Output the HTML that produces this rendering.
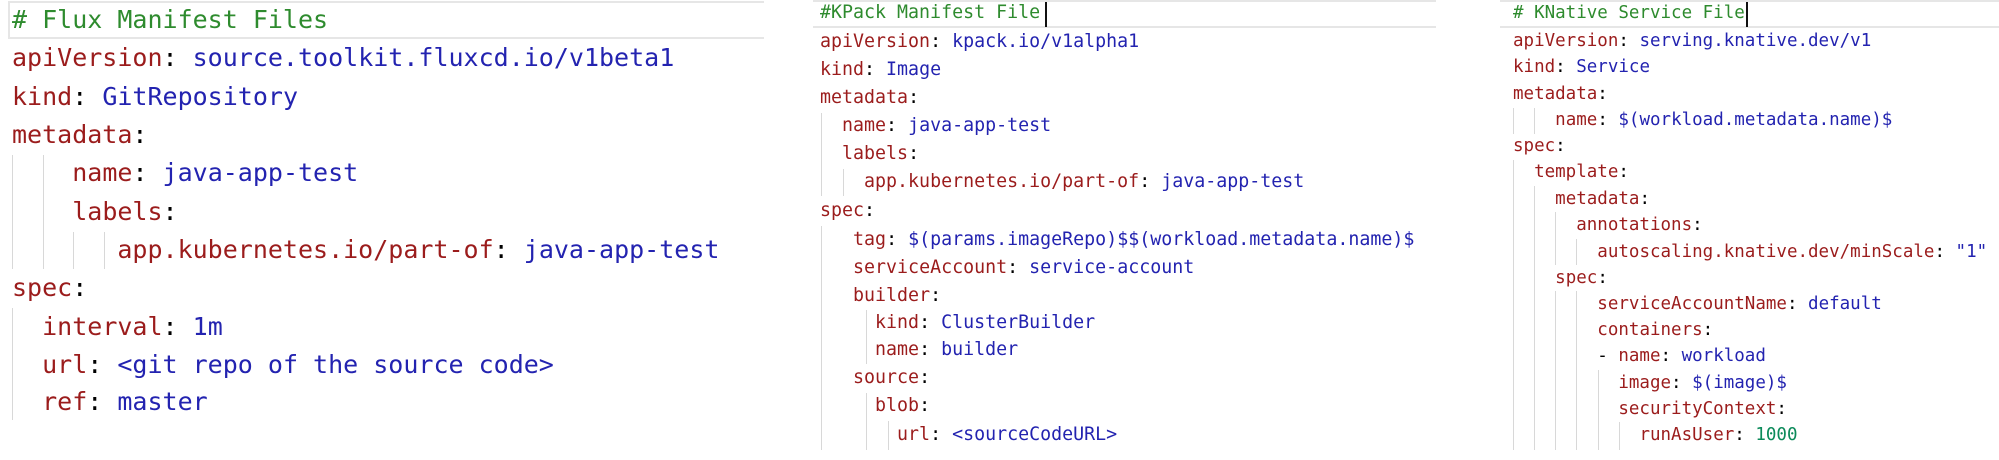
<!DOCTYPE html>
<html><head><meta charset="utf-8"><style>
html,body{margin:0;padding:0;background:#fff;}
body{width:1999px;height:460px;position:relative;overflow:hidden;font-family:"DejaVu Sans Mono","Liberation Mono",monospace;}
.l{position:absolute;white-space:pre;}
.p1 .l{font-size:25px;line-height:38px;left:12px;}
.p2 .l{font-size:18.3px;line-height:28px;left:820px;}
.p3 .l{font-size:17.5px;line-height:26px;left:1513px;}
.k{color:#9b1c1c}.v{color:#2323b0}.c{color:#2e8b2e}.n{color:#0b8a5a}
.g{position:absolute;width:1px;background:#d8d8d8;}
.hb{position:absolute;border-top:2px solid #e6e6e6;border-bottom:2px solid #e6e6e6;}
.cur{position:absolute;width:2px;background:#111;}
</style></head><body>
<!-- header bands -->
<div class="hb" style="left:8px;top:1px;width:754px;height:34px;border-left:2px solid #e6e6e6;"></div>
<div class="hb" style="left:813px;top:0px;width:623px;height:24px;"></div>
<div class="hb" style="left:1500px;top:0px;width:499px;height:24px;"></div>
<div class="cur" style="left:1045px;top:2px;height:25px;"></div>
<div class="cur" style="left:1746px;top:2px;height:25px;"></div>

<div class="p1">
<div class="l" style="top:1px"><span class="c"># Flux Manifest Files</span></div>
<div class="l" style="top:39px"><span class="k">apiVersion</span>: <span class="v">source.toolkit.fluxcd.io/v1beta1</span></div>
<div class="l" style="top:78px"><span class="k">kind</span>: <span class="v">GitRepository</span></div>
<div class="l" style="top:116px"><span class="k">metadata</span>:</div>
<div class="l" style="top:154px">    <span class="k">name</span>: <span class="v">java-app-test</span></div>
<div class="l" style="top:193px">    <span class="k">labels</span>:</div>
<div class="l" style="top:231px">       <span class="k">app.kubernetes.io/part-of</span>: <span class="v">java-app-test</span></div>
<div class="l" style="top:269px"><span class="k">spec</span>:</div>
<div class="l" style="top:308px">  <span class="k">interval</span>: <span class="v">1m</span></div>
<div class="l" style="top:346px">  <span class="k">url</span>: <span class="v">&lt;git repo of the source code&gt;</span></div>
<div class="l" style="top:383px">  <span class="k">ref</span>: <span class="v">master</span></div>
<div class="g" style="left:12px;top:155px;height:114px"></div>
<div class="g" style="left:43px;top:155px;height:114px"></div>
<div class="g" style="left:73px;top:232px;height:37px"></div>
<div class="g" style="left:104px;top:232px;height:37px"></div>
<div class="g" style="left:12px;top:308px;height:112px"></div>
</div>

<div class="p2">
<div class="l" style="top:-1px"><span class="c">#KPack Manifest File</span></div>
<div class="l" style="top:28px"><span class="k">apiVersion</span>: <span class="v">kpack.io/v1alpha1</span></div>
<div class="l" style="top:56px"><span class="k">kind</span>: <span class="v">Image</span></div>
<div class="l" style="top:84px"><span class="k">metadata</span>:</div>
<div class="l" style="top:112px">  <span class="k">name</span>: <span class="v">java-app-test</span></div>
<div class="l" style="top:140px">  <span class="k">labels</span>:</div>
<div class="l" style="top:168px">    <span class="k">app.kubernetes.io/part-of</span>: <span class="v">java-app-test</span></div>
<div class="l" style="top:197px"><span class="k">spec</span>:</div>
<div class="l" style="top:226px">   <span class="k">tag</span>: <span class="v">$(params.imageRepo)$$(workload.metadata.name)$</span></div>
<div class="l" style="top:254px">   <span class="k">serviceAccount</span>: <span class="v">service-account</span></div>
<div class="l" style="top:282px">   <span class="k">builder</span>:</div>
<div class="l" style="top:309px">     <span class="k">kind</span>: <span class="v">ClusterBuilder</span></div>
<div class="l" style="top:336px">     <span class="k">name</span>: <span class="v">builder</span></div>
<div class="l" style="top:364px">   <span class="k">source</span>:</div>
<div class="l" style="top:392px">     <span class="k">blob</span>:</div>
<div class="l" style="top:421px">       <span class="k">url</span>: <span class="v">&lt;sourceCodeURL&gt;</span></div>
<div class="g" style="left:821px;top:113px;height:83px"></div>
<div class="g" style="left:843px;top:169px;height:27px"></div>
<div class="g" style="left:821px;top:226px;height:224px"></div>
<div class="g" style="left:866px;top:310px;height:54px"></div>
<div class="g" style="left:866px;top:393px;height:57px"></div>
<div class="g" style="left:888px;top:421px;height:29px"></div>
</div>

<div class="p3">
<div class="l" style="top:0px"><span class="c"># KNative Service File</span></div>
<div class="l" style="top:28px"><span class="k">apiVersion</span>: <span class="v">serving.knative.dev/v1</span></div>
<div class="l" style="top:54px"><span class="k">kind</span>: <span class="v">Service</span></div>
<div class="l" style="top:81px"><span class="k">metadata</span>:</div>
<div class="l" style="top:107px">    <span class="k">name</span>: <span class="v">$(workload.metadata.name)$</span></div>
<div class="l" style="top:133px"><span class="k">spec</span>:</div>
<div class="l" style="top:159px">  <span class="k">template</span>:</div>
<div class="l" style="top:186px">    <span class="k">metadata</span>:</div>
<div class="l" style="top:212px">      <span class="k">annotations</span>:</div>
<div class="l" style="top:239px">        <span class="k">autoscaling.knative.dev/minScale</span>: <span class="v">"1"</span></div>
<div class="l" style="top:265px">    <span class="k">spec</span>:</div>
<div class="l" style="top:291px">        <span class="k">serviceAccountName</span>: <span class="v">default</span></div>
<div class="l" style="top:317px">        <span class="k">containers</span>:</div>
<div class="l" style="top:343px">        - <span class="k">name</span>: <span class="v">workload</span></div>
<div class="l" style="top:370px">          <span class="k">image</span>: <span class="v">$(image)$</span></div>
<div class="l" style="top:396px">          <span class="k">securityContext</span>:</div>
<div class="l" style="top:422px">            <span class="k">runAsUser</span>: <span class="n">1000</span></div>
<div class="g" style="left:1513px;top:108px;height:26px"></div>
<div class="g" style="left:1534px;top:108px;height:26px"></div>
<div class="g" style="left:1513px;top:160px;height:290px"></div>
<div class="g" style="left:1534px;top:186px;height:264px"></div>
<div class="g" style="left:1555px;top:212px;height:53px"></div>
<div class="g" style="left:1576px;top:239px;height:26px"></div>
<div class="g" style="left:1555px;top:291px;height:159px"></div>
<div class="g" style="left:1576px;top:291px;height:159px"></div>
<div class="g" style="left:1598px;top:370px;height:80px"></div>
<div class="g" style="left:1619px;top:422px;height:28px"></div>
</div>
</body></html>
